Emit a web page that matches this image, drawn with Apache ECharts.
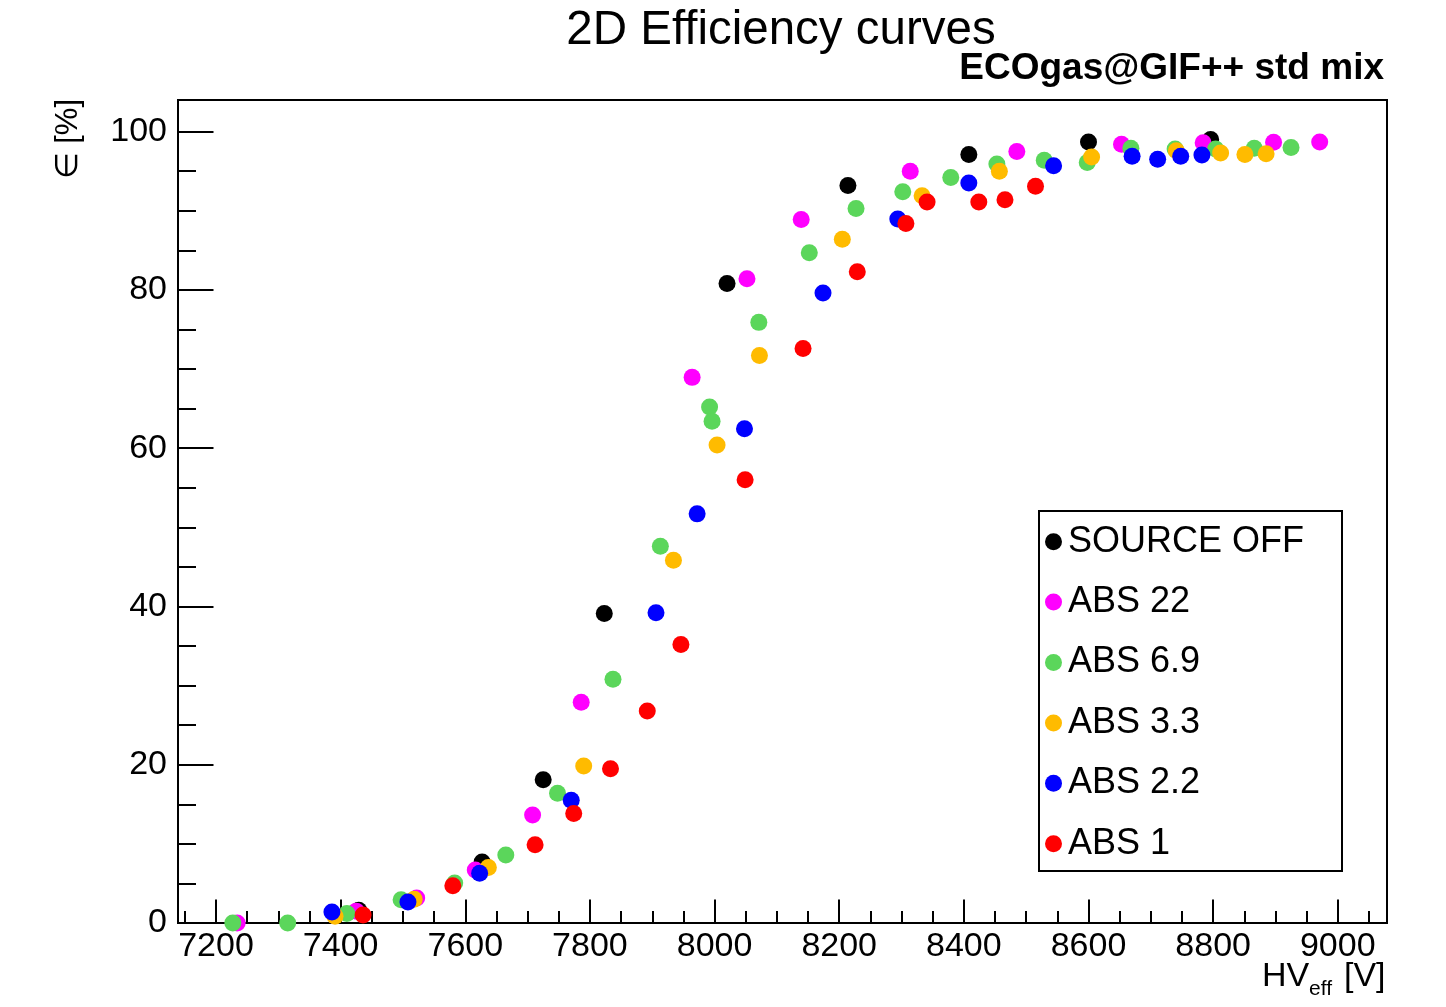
<!DOCTYPE html>
<html>
<head>
<meta charset="utf-8">
<script src="https://cdn.jsdelivr.net/npm/echarts@6/dist/echarts.min.js"></script>
<style>
html,body{margin:0;padding:0;background:#fff;}
#chart{width:1446px;height:1007px;}
</style>
</head>
<body>
<div id="chart"></div>
<script>
// ---- data ----
const seriesNames = ['SOURCE OFF', 'ABS 22', 'ABS 6.9', 'ABS 3.3', 'ABS 2.2', 'ABS 1'];
const seriesColors = ['#000000', '#ff00ff', '#5bd65b', '#ffbb00', '#0000ff', '#ff0000'];

const offHV   = [7429, 7627, 7725, 7823, 8020, 8214, 8408, 8600, 8796];
const offEff  = [1.6, 7.7, 18.1, 39.1, 80.8, 93.2, 97.1, 98.7, 99.0];

const abs22HV  = [7234, 7425, 7522, 7616, 7708, 7786, 7964, 8052, 8139, 8314, 8485, 8653, 8784, 8897, 8971];
const abs22Eff = [0, 1.5, 3.15, 6.7, 13.65, 27.9, 68.95, 81.4, 88.9, 95.0, 97.5, 98.4, 98.6, 98.65, 98.7];

const abs69HV  = [7227, 7315, 7410, 7497, 7583, 7665, 7748, 7837, 7913, 7992, 7996, 8071, 8152, 8227, 8302, 8379, 8453, 8529, 8598, 8668, 8739, 8804, 8866, 8925];
const abs69Eff = [0, 0, 1.2, 2.95, 5.05, 8.6, 16.4, 30.8, 47.6, 65.2, 63.4, 75.9, 84.7, 90.3, 92.4, 94.2, 95.9, 96.4, 96.1, 97.9, 97.8, 97.8, 97.9, 98.0];

const abs33HV  = [7391, 7518, 7637, 7790, 7934, 8004, 8072, 8205, 8333, 8457, 8605, 8741, 8812, 8851, 8885];
const abs33Eff = [0.85, 3.0, 7.0, 19.85, 45.85, 60.4, 71.7, 86.4, 91.9, 95.0, 96.8, 97.6, 97.3, 97.1, 97.2];

const abs2p2HV  = [7386, 7508, 7623, 7770, 7906, 7972, 8048, 8174, 8294, 8408, 8544, 8670, 8711, 8748, 8782];
const abs2p2Eff = [1.4, 2.65, 6.3, 15.5, 39.2, 51.7, 62.45, 79.6, 88.96, 93.5, 95.7, 96.9, 96.5, 96.9, 97.05];

const abs1HV  = [7436, 7580, 7712, 7774, 7833, 7892, 7946, 8049, 8142, 8229, 8307, 8341, 8424, 8466, 8515];
const abs1Eff = [1.0, 4.7, 9.9, 13.85, 19.5, 26.8, 35.2, 56.0, 72.6, 82.3, 88.4, 91.1, 91.1, 91.4, 93.1];

const xMajorTicks = [7200, 7400, 7600, 7800, 8000, 8200, 8400, 8600, 8800, 9000];
const xMinorTicks = [7150, 7250, 7300, 7350, 7450, 7500, 7550, 7650, 7700, 7750, 7850, 7900, 7950,
                     8050, 8100, 8150, 8250, 8300, 8350, 8450, 8500, 8550, 8650, 8700, 8750, 8850, 8900, 8950, 9050];
const yMajorTicks = [0, 20, 40, 60, 80, 100];
const yMinorTicks = [5, 10, 15, 25, 30, 35, 45, 50, 55, 65, 70, 75, 85, 90, 95];

const xRange = [7139, 9079];
const yRange = [0, 104.0];

// ---- build ----
const allHV  = [offHV, abs22HV, abs69HV, abs33HV, abs2p2HV, abs1HV];
const allEff = [offEff, abs22Eff, abs69Eff, abs33Eff, abs2p2Eff, abs1Eff];
const FONT = "'Liberation Sans', Arial, Helvetica, sans-serif";
const plain = v => String(Math.round(v));

const series = seriesNames.map((name, i) => ({
  name: name,
  type: 'scatter',
  xAxisIndex: 0,
  yAxisIndex: 0,
  symbol: 'circle',
  symbolSize: 17,
  itemStyle: { color: seriesColors[i], opacity: 1 },
  data: allHV[i].map((v, k) => [v, allEff[i][k]]),
  z: 2 + i
}));

const chart = echarts.init(document.getElementById('chart'), null, { renderer: 'canvas' });

const option = {
  animation: false,
  backgroundColor: '#ffffff',
  grid: {
    left: 178, top: 100, width: 1209, height: 823,
    show: true, borderColor: '#000', borderWidth: 2, backgroundColor: 'transparent'
  },
  xAxis: [
    {
      type: 'value', min: xRange[0], max: xRange[1], position: 'bottom',
      axisLine: { show: true, onZero: false, lineStyle: { color: '#000', width: 2 } },
      axisTick: { show: true, inside: true, length: 23.5, customValues: xMajorTicks, lineStyle: { color: '#000', width: 2 } },
      axisLabel: { show: true, customValues: xMajorTicks, formatter: plain, margin: 7, fontSize: 34, color: '#000', fontFamily: FONT },
      splitLine: { show: false }
    },
    {
      type: 'value', min: xRange[0], max: xRange[1], position: 'bottom',
      axisLine: { show: false },
      axisTick: { show: true, inside: true, length: 12, customValues: xMinorTicks, lineStyle: { color: '#000', width: 2 } },
      axisLabel: { show: false, customValues: xMinorTicks },
      splitLine: { show: false }
    }
  ],
  yAxis: [
    {
      type: 'value', min: yRange[0], max: yRange[1], position: 'left',
      axisLine: { show: true, onZero: false, lineStyle: { color: '#000', width: 2 } },
      axisTick: { show: true, inside: true, length: 35.5, customValues: yMajorTicks, lineStyle: { color: '#000', width: 2 } },
      axisLabel: { show: true, customValues: yMajorTicks, formatter: plain, margin: 11, fontSize: 34, color: '#000', fontFamily: FONT },
      splitLine: { show: false }
    },
    {
      type: 'value', min: yRange[0], max: yRange[1], position: 'left',
      axisLine: { show: false },
      axisTick: { show: true, inside: true, length: 18, customValues: yMinorTicks, lineStyle: { color: '#000', width: 2 } },
      axisLabel: { show: false, customValues: yMinorTicks },
      splitLine: { show: false }
    }
  ],
  legend: {
    show: true,
    orient: 'vertical',
    left: 1045,
    top: 521.7,
    padding: 0,
    itemGap: 20.4,
    itemWidth: 17,
    itemHeight: 17,
    icon: 'circle',
    data: seriesNames,
    textStyle: { fontSize: 36, lineHeight: 40, color: '#000', fontFamily: FONT, padding: [0, 0, 0, 1] },
    selectedMode: false
  },
  graphic: [
    {
      type: 'rect', silent: true, z: 10,
      shape: { x: 1039, y: 511, width: 303, height: 360 },
      style: { fill: 'none', stroke: '#000', lineWidth: 2 }
    },
    {
      type: 'text', silent: true, z: 10, x: 781, y: 31,
      style: { text: '2D Efficiency curves', fontSize: 47.5, fontFamily: FONT, fill: '#000', textAlign: 'center', textVerticalAlign: 'middle' }
    },
    {
      type: 'text', silent: true, z: 10, x: 1384, y: 69,
      style: { text: 'ECOgas@GIF++ std mix', fontSize: 37, fontWeight: 'bold', fontFamily: FONT, fill: '#000', textAlign: 'right', textVerticalAlign: 'middle' }
    },
    {
      type: 'text', silent: true, z: 10, x: 1262, y: 977,
      style: { text: 'HV', fontSize: 34, fontFamily: FONT, fill: '#000', textAlign: 'left', textVerticalAlign: 'middle' }
    },
    {
      type: 'text', silent: true, z: 10, x: 1309, y: 989,
      style: { text: 'eff', fontSize: 21, fontFamily: FONT, fill: '#000', textAlign: 'left', textVerticalAlign: 'middle' }
    },
    {
      type: 'text', silent: true, z: 10, x: 1344, y: 977,
      style: { text: '[V]', fontSize: 34, fontFamily: FONT, fill: '#000', textAlign: 'left', textVerticalAlign: 'middle' }
    },
    {
      type: 'text', silent: true, z: 10, x: 68, y: 99, rotation: Math.PI / 2,
      style: { text: '\u2208 [%]', fontSize: 31, fontFamily: FONT, fill: '#000', textAlign: 'right', textVerticalAlign: 'middle' }
    }
  ],
  series: series
};

chart.setOption(option);
</script>
</body>
</html>
